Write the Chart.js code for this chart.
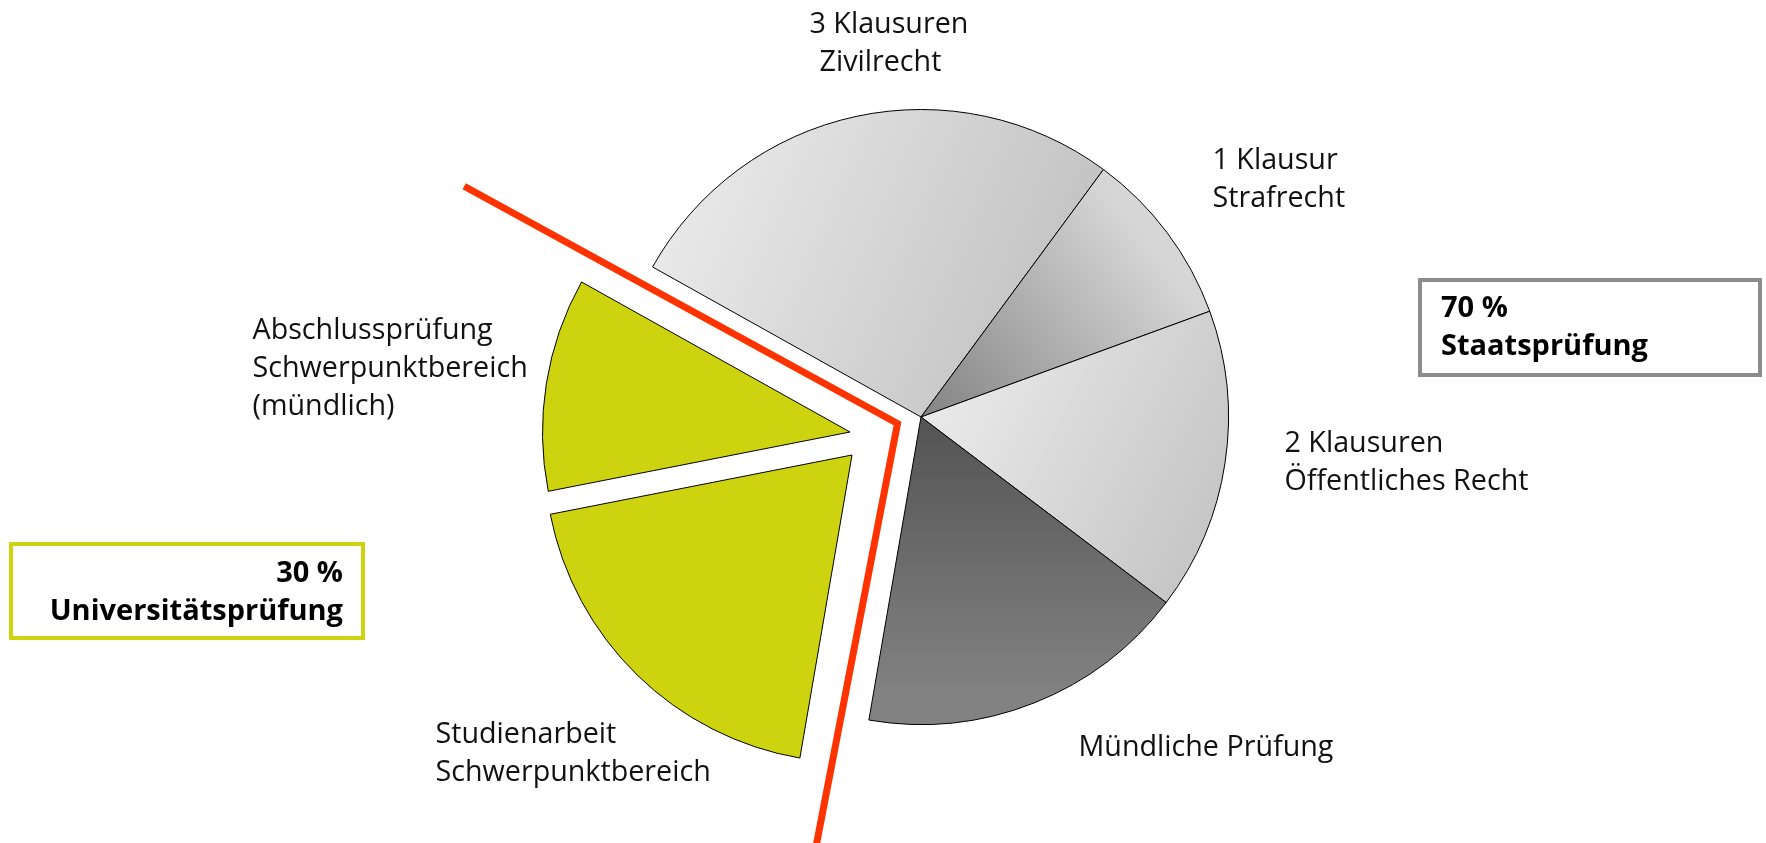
<!DOCTYPE html>
<html>
<head>
  <title>Gewichtung Erste Juristische Prüfung</title>
  <script src="https://cdn.jsdelivr.net/npm/chart.js"></script>
  <style>
    html, body { margin: 0; padding: 0; background: #fff; }
    #wrap { position: relative; width: 1766px; height: 843px; }
  </style>
</head>
<body>
  <div id="wrap"><canvas id="chart"></canvas></div>

  <script>
    // slices, clockwise from the upper left edge of "Zivilrecht"
    const categories = [
      "3 Klausuren Zivilrecht",
      "1 Klausur Strafrecht",
      "2 Klausuren Öffentliches Recht",
      "Mündliche Prüfung",
      "Studienarbeit Schwerpunktbereich",
      "Abschlussprüfung Schwerpunktbereich (mündlich)"
    ];
    const shares = [27.0, 9.3, 15.9, 17.4, 19.2, 11.2];
    const labelLines = [
      ["3 Klausuren", "Zivilrecht"],
      ["1 Klausur", "Strafrecht"],
      ["2 Klausuren", "Öffentliches Recht"],
      ["Mündliche Prüfung"],
      ["Studienarbeit", "Schwerpunktbereich"],
      ["Abschlussprüfung", "Schwerpunktbereich", "(mündlich)"]
    ];
    const staatBox = ["70 %", "Staatsprüfung"];
    const uniBox = ["30 %", "Universitätsprüfung"];

    const YELLOW = "#cdd30f";
    const RED = "#ff3300";
    const FONT = "'Open Sans', 'Noto Sans', sans-serif";

    // gradient fills, points in units of the pie radius relative to its centre
    const sliceFill = [
      { from: [-0.9, -0.6], to: [0.5, 0.0], stops: ["#ebebeb", "#bdbdbd"] },
      { from: [0.0, 0.05], to: [0.75, -0.55], stops: ["#808080", "#d6d6d6"] },
      { from: [0.05, 0.0], to: [0.95, 0.45], stops: ["#e9e9e9", "#c4c4c4"] },
      { from: [0.0, 0.05], to: [0.0, 0.9], stops: ["#565656", "#828282"] },
      YELLOW,
      YELLOW
    ];

    function pieGeom(chart) {
      const a = chart.chartArea;
      return { cx: (a.left + a.right) / 2, cy: (a.top + a.bottom) / 2, r: Math.min(a.width, a.height) / 2 };
    }

    function fillFor(c) {
      const f = sliceFill[c.dataIndex];
      if (typeof f === "string") return f;
      if (!c.chart.chartArea) return f.stops[1];
      const g = pieGeom(c.chart);
      const grad = c.chart.ctx.createLinearGradient(
        g.cx + f.from[0] * g.r, g.cy + f.from[1] * g.r,
        g.cx + f.to[0] * g.r, g.cy + f.to[1] * g.r);
      grad.addColorStop(0, f.stops[0]);
      grad.addColorStop(1, f.stops[1]);
      return grad;
    }

    // moves the two university slices out of the pie
    const explodePlugin = {
      id: "explode",
      beforeDatasetDraw(chart, args, opts) {
        args.meta.data.forEach((arc, i) => {
          const s = opts.shift[i];
          if (!s || arc._shifted) return;
          const orig = arc.draw.bind(arc);
          arc.draw = ctx => {
            ctx.save();
            ctx.translate(s[0], s[1]);
            orig(ctx);
            ctx.restore();
          };
          arc._shifted = true;
        });
      }
    };

    // red divider, labels and the two summary boxes
    const decorPlugin = {
      id: "decor",
      afterDatasetsDraw(chart, args, opts) {
        const ctx = chart.ctx;
        const g = pieGeom(chart);

        // divider
        const cx = g.cx + opts.divider.corner[0], cy = g.cy + opts.divider.corner[1];
        const a1 = opts.divider.up[0] * Math.PI / 180, a2 = opts.divider.down[0] * Math.PI / 180;
        ctx.save();
        ctx.strokeStyle = RED;
        ctx.lineWidth = 7;
        ctx.lineJoin = "miter";
        ctx.beginPath();
        ctx.moveTo(cx + Math.cos(a1) * opts.divider.up[1], cy + Math.sin(a1) * opts.divider.up[1]);
        ctx.lineTo(cx, cy);
        ctx.lineTo(cx + Math.cos(a2) * opts.divider.down[1], cy + Math.sin(a2) * opts.divider.down[1]);
        ctx.stroke();
        ctx.restore();

        // slice labels
        ctx.save();
        ctx.fillStyle = "#111";
        ctx.font = "28.7px " + FONT;
        ctx.textBaseline = "alphabetic";
        ctx.textAlign = "left";
        labelLines.forEach((lines, i) => {
          const p = opts.labels[i];
          lines.forEach((t, j) => {
            const indent = (p[2] && p[2][j]) || 0;
            ctx.fillText(t, g.cx + p[0] + indent, g.cy + p[1] + j * 38);
          });
        });
        ctx.restore();

        // boxes
        ctx.save();
        ctx.lineWidth = 4;
        ctx.font = "bold 29px " + FONT;
        ctx.fillStyle = "#000";
        opts.boxes.forEach(b => {
          ctx.strokeStyle = b.color;
          ctx.strokeRect(b.x, b.y, b.w, b.h);
          ctx.textAlign = b.align;
          const tx = b.align === "right" ? b.x + b.w - b.pad : b.x + b.pad;
          b.text.forEach((t, j) => ctx.fillText(t, tx, b.y + b.base + j * 38));
        });
        ctx.restore();
      }
    };

    const chart = new Chart(document.getElementById("chart"), {
      type: "pie",
      data: {
        labels: categories,
        datasets: [{
          data: shares,
          backgroundColor: fillFor,
          borderColor: "#000",
          borderWidth: 1
        }]
      },
      options: {
        responsive: true,
        maintainAspectRatio: false,
        animation: false,
        rotation: 299.2,
        layout: { padding: { left: 613, right: 537, top: 109, bottom: 118 } },
        plugins: {
          legend: { display: false },
          tooltip: { enabled: false },
          explode: { shift: [null, null, null, null, [-69, 38], [-71, 15]] },
          decor: {
            divider: { corner: [-23.5, 6.5], up: [208.7, 494], down: [100.9, 470] },
            labels: [
              [-111.5, -384.5, [0, 10]],
              [291.5, -248.5],
              [363.5, 34.5],
              [157.5, 338.5],
              [-485.5, 325.5],
              [-668.5, -78.5]
            ],
            boxes: [
              { x: 1420, y: 280, w: 340, h: 95, color: "#8c8c8c", align: "left", pad: 21, base: 37, text: staatBox },
              { x: 11, y: 544, w: 352, h: 94, color: YELLOW, align: "right", pad: 20, base: 38, text: uniBox }
            ]
          }
        }
      },
      plugins: [explodePlugin, decorPlugin]
    });
  </script>
</body>
</html>
